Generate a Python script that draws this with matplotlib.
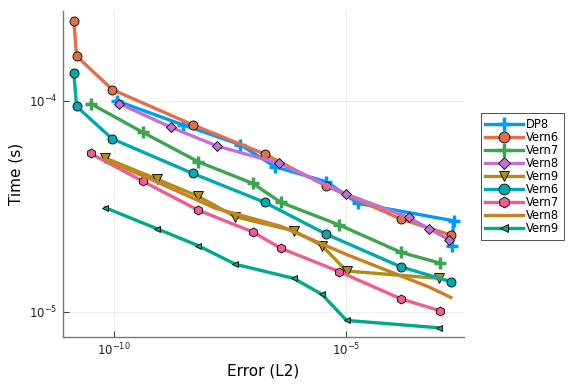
import numpy as np
import matplotlib
matplotlib.use("Agg")
import matplotlib.pyplot as plt
from matplotlib.ticker import FixedLocator, NullLocator, LogFormatterMathtext

# error (L2) / time (s) for each method
dp8_err = [1.13e-10, 3.0e-9, 5.2e-8, 2.94e-7, 3.76e-6, 1.84e-5, 2.07e-3, 1.91e-3]
dp8_time = [1.0e-4, 7.7e-5, 6.2e-5, 4.87e-5, 4.13e-5, 3.26e-5, 2.7e-5, 2.05e-5]

vern6_err = [1.35e-11, 1.55e-11, 9.1e-11, 4.9e-9, 1.76e-7, 3.76e-6, 1.54e-4, 1.8e-3]
vern6_time = [2.39e-4, 1.63e-4, 1.13e-4, 7.7e-5, 5.59e-5, 3.94e-5, 2.75e-5, 2.31e-5]

vern7_err = [3.1e-11, 4.1e-10, 6.5e-9, 9.7e-8, 3.9e-7, 7.1e-6, 1.54e-4, 1.07e-3]
vern7_time = [9.7e-5, 7.1e-5, 5.14e-5, 4.06e-5, 3.3e-5, 2.58e-5, 1.91e-5, 1.70e-5]

vern8_err = [1.28e-10, 1.65e-9, 1.67e-8, 3.64e-7, 1.01e-5, 2.21e-4, 6.05e-4, 1.61e-3]
vern8_time = [9.7e-5, 7.5e-5, 6.1e-5, 5.05e-5, 3.61e-5, 2.8e-5, 2.48e-5, 2.2e-5]

vern9_err = [6.5e-11, 8.2e-10, 6.4e-9, 4.1e-8, 7.4e-7, 3.0e-6, 1.02e-5, 9.8e-4]
vern9_time = [5.35e-5, 4.26e-5, 3.53e-5, 2.82e-5, 2.42e-5, 2.06e-5, 1.56e-5, 1.44e-5]

vern6b_time = [1.36e-4, 9.4e-5, 6.6e-5, 4.53e-5, 3.3e-5, 2.33e-5, 1.63e-5, 1.39e-5]
vern7b_time = [5.63e-5, 4.16e-5, 3.03e-5, 2.39e-5, 2.0e-5, 1.55e-5, 1.15e-5, 1.01e-5]

vern8b_err = [6.6e-11, 8.4e-10, 1.49e-8, 3.95e-7, 1.01e-5, 6.1e-4, 1.8e-3]
vern8b_time = [5.24e-5, 4.12e-5, 3.1e-5, 2.54e-5, 1.87e-5, 1.31e-5, 1.17e-5]

vern9b_time = [3.11e-5, 2.48e-5, 2.06e-5, 1.68e-5, 1.44e-5, 1.21e-5, 9.1e-6, 8.4e-6]

series = [
    ("DP8", dp8_err, dp8_time, "#009AFA", "+"),
    ("Vern6", vern6_err, vern6_time, "#E36F47", "o"),
    ("Vern7", vern7_err, vern7_time, "#3EA44E", "+"),
    ("Vern8", vern8_err, vern8_time, "#C271D2", "D"),
    ("Vern9", vern9_err, vern9_time, "#AC8E18", "v"),
    ("Vern6", vern6_err, vern6b_time, "#00A9AD", "o"),
    ("Vern7", vern7_err, vern7b_time, "#ED5E93", "h"),
    ("Vern8", vern8b_err, vern8b_time, "#C68225", None),
    ("Vern9", vern9_err, vern9b_time, "#00A98D", "<"),
]

fig = plt.figure(figsize=(5.76, 3.84), dpi=100)
ax = fig.add_axes([0.109, 0.123, 0.697, 0.848])

for name, x, y, color, marker in series:
    kw = dict(color=color, lw=2.4, label=name)
    if marker is None:
        ax.plot(x, y, **kw)
        continue
    if marker == "+":
        kw.update(marker="+", ms=8, mew=2.5, mec=color)
    elif marker == "<":
        kw.update(marker="<", ms=4.5, mec="black", mew=0.6, mfc=color)
    elif marker == "D":
        kw.update(marker="D", ms=5, mec="black", mew=0.6, mfc=color)
    else:
        kw.update(marker=marker, ms=6.5, mec="black", mew=0.6, mfc=color)
    ax.plot(x, y, **kw)

ax.set_xscale("log")
ax.set_yscale("log")
ax.set_xlim(10 ** -11.107, 10 ** -2.454)
ax.set_ylim(10 ** -5.1185, 10 ** -3.575)

ax.xaxis.set_major_locator(FixedLocator([1e-10, 1e-5]))
ax.yaxis.set_major_locator(FixedLocator([1e-5, 1e-4]))
ax.xaxis.set_minor_locator(NullLocator())
ax.yaxis.set_minor_locator(NullLocator())
ax.xaxis.set_major_formatter(LogFormatterMathtext())
ax.yaxis.set_major_formatter(LogFormatterMathtext())

ax.grid(True, color="black", alpha=0.1, lw=0.5)
ax.tick_params(direction="in", length=4, width=0.8, color="#444444",
               labelsize=8.5, labelcolor="#222222")
for side in ("top", "right"):
    ax.spines[side].set_visible(False)
for side in ("left", "bottom"):
    ax.spines[side].set_color("#777777")
    ax.spines[side].set_linewidth(1.0)

ax.set_xlabel("Error (L2)", fontsize=11)
ax.set_ylabel("Time (s)", fontsize=11)

leg = fig.legend(*ax.get_legend_handles_labels(), loc="upper left",
                 bbox_to_anchor=(0.8345, 0.705), fontsize=8.3,
                 frameon=True, fancybox=False, borderaxespad=0,
                 handlelength=3.3, labelspacing=0.0, borderpad=0.4,
                 handletextpad=0.25, markerscale=1.2)
leg.get_frame().set_edgecolor("black")
leg.get_frame().set_linewidth(0.6)

fig.savefig("out.png", dpi=100)
